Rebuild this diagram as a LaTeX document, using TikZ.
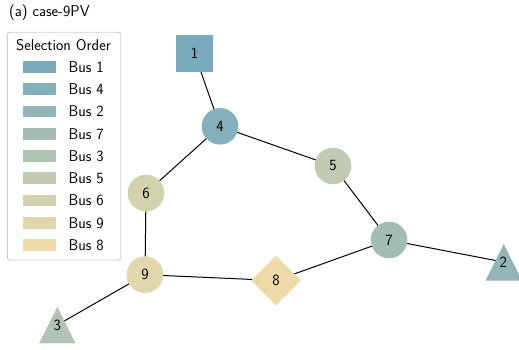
\documentclass[tikz,border=0pt]{standalone}
\usetikzlibrary{shapes.geometric}
\definecolor{cbA}{HTML}{78AABB}
\definecolor{cbB}{HTML}{84B0BB}
\definecolor{cbC}{HTML}{92B6B8}
\definecolor{cbD}{HTML}{A2BDB5}
\definecolor{cbE}{HTML}{B1C3B2}
\definecolor{cbF}{HTML}{C2CBB1}
\definecolor{cbG}{HTML}{D2D2AF}
\definecolor{cbH}{HTML}{E0D7AD}
\definecolor{cbI}{HTML}{EEDBA9}
\definecolor{legframe}{HTML}{CCCCCC}
\pgfdeclarelayer{background}
\pgfsetlayers{background,main}
\begin{document}
\begin{tikzpicture}[x=1pt,y=-1pt,
  font=\sffamily\fontsize{15.6}{18}\selectfont,
  busnode/.style={circle, minimum size=36.6pt, inner sep=0pt, fill=#1},
  sqnode/.style={rectangle, minimum size=37pt, inner sep=0pt, fill=#1},
  dmnode/.style={diamond, minimum width=50pt, minimum height=50pt, inner sep=0pt, fill=#1},
  trinode/.style={circle, minimum size=10pt, inner sep=0pt},
  edge/.style={draw=black, line width=1pt},
  patch/.style={rectangle, minimum width=33pt, minimum height=11.7pt, inner sep=0pt, fill=#1},
  legtext/.style={anchor=west, inner sep=0pt}
]
\useasboundingbox (0,0) rectangle (519,350);

\node[anchor=west, inner sep=0pt] (title) at (9,13) {(a) case-9PV};

% legend
\draw[legframe, fill=white, line width=0.9pt, rounded corners=2.5pt] (7.3,32.3) rectangle (120.7,260);
\node (legtitle) at (63.5,45) {Selection Order};
\foreach \i/\c/\t [count=\k from 0] in {1/cbA/1, 2/cbB/4, 3/cbC/2, 4/cbD/7, 5/cbE/3, 6/cbF/5, 7/cbG/6, 8/cbH/9, 9/cbI/8} {
  \node[patch=\c] (p\i) at (39,66.8+22.3*\k) {};
  \node[legtext] (l\i) at (68.3,66.8+22.3*\k) {Bus \t};
}

% triangles
\fill[cbC] (503.7,262.3) ++(0,-18.2) -- ++(18.2,36.4) -- ++(-36.4,0) -- cycle;
\fill[cbE] (57.3,325.2) ++(0,-18.2) -- ++(18.2,36.4) -- ++(-36.4,0) -- cycle;

% nodes
\node[sqnode=cbA] (n1) at (194.5,53.5) {1};
\node[busnode=cbB] (n4) at (220,126.3) {4};
\node[busnode=cbF] (n5) at (333,166) {5};
\node[busnode=cbG] (n6) at (146,193) {6};
\node[busnode=cbD] (n7) at (389,240) {7};
\node[busnode=cbH] (n9) at (145,274.7) {9};
\node[dmnode=cbI] (n8) at (276,280.5) {8};
\node[trinode] (n2) at (503.3,262) {2};
\node[trinode] (n3) at (57.3,325) {3};

\begin{pgfonlayer}{background}
\draw[edge] (n1.center) -- (n4.center);
\draw[edge] (n4.center) -- (n6.center);
\draw[edge] (n4.center) -- (n5.center);
\draw[edge] (n5.center) -- (n7.center);
\draw[edge] (n6.center) -- (n9.center);
\draw[edge] (n9.center) -- (n8.center);
\draw[edge] (n8.center) -- (n7.center);
\draw[edge] (n7.center) -- (n2.center);
\draw[edge] (n9.center) -- (n3.center);
\end{pgfonlayer}
\end{tikzpicture}
\end{document}
